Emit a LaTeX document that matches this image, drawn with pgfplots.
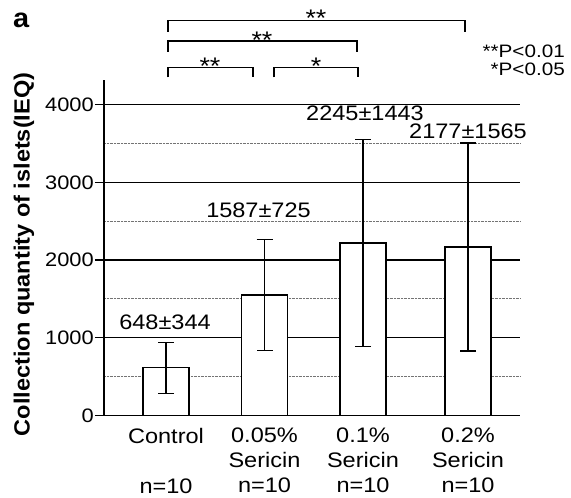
\documentclass[border=0pt]{standalone}
\usepackage{pgfplots}
\pgfplotsset{compat=1.18}
\usepackage{fontspec}
\setmainfont{Liberation Sans}
\newfontfamily\tf[FakeStretch=1.12]{Liberation Sans}
\newfontfamily\lf[FakeStretch=1.15]{Liberation Sans}
\newfontfamily\bff[FakeStretch=1.07]{Liberation Sans}
\begin{document}
\begin{tikzpicture}[x=1pt,y=1pt]
\useasboundingbox (0,0) rectangle (571,498);
\begin{axis}[
  at={(104pt,82.5pt)}, anchor=south west,
  scale only axis, width=416pt, height=335.5pt,
  xmin=0, xmax=416, ymin=0, ymax=4318,
  axis lines=left, axis line style={-, line width=1.4pt, black},
  clip=false,
  ytick={0,1000,2000,3000,4000},
  yticklabels={0,1000,2000,3000,4000},
  minor ytick={500,1500,2500,3500},
  ymajorgrids, yminorgrids,
  major grid style={black, line width=1.4pt},
  minor grid style={black!55, densely dotted, line width=1pt},
  major tick length=9pt, minor tick length=0pt, tick align=outside,
  ytick style={black, line width=1.4pt},
  xtick={62,160.5,259,364}, xtick style={draw=none},
  xticklabels={{Control\\\mbox{}\\n=10},{0.05\%\\Sericin\\n=10},{0.1\%\\Sericin\\n=10},{0.2\%\\Sericin\\n=10}},
  xticklabel style={align=center, font=\tf\fontsize{21}{25}\selectfont, anchor=north},
  yticklabel style={font=\tf\fontsize{19.5}{22}\selectfont, inner sep=1pt, anchor=east},
]
\addplot[ybar, bar width=46, fill=white, draw=black, line width=1.3pt,
  error bars/.cd, y dir=both, y explicit,
  error bar style={line width=1.3pt, black},
  error mark options={rotate=90, mark size=8pt, line width=1.3pt, black}]
  coordinates {(62,615) +- (0,328) (160.5,1551) +- (0,715) (259,2220) +- (0,1336) (364,2168) +- (0,1338)};
\end{axis}
% significance brackets
\draw[line width=1.3pt] (168,466.3) -- (168,477.3) -- (465,477.3) -- (465,466.3);
\draw[line width=1.3pt] (168,446) -- (168,457) -- (357,457) -- (357,446);
\draw[line width=1.3pt] (168,420.5) -- (168,430.7) -- (253,430.7) -- (253,420.5);
\draw[line width=1.3pt] (274,420.5) -- (274,430.7) -- (358,430.7) -- (358,420.5);
\begin{scope}[every node/.style={anchor=base, inner sep=0pt, font=\tf\fontsize{24}{24}\selectfont}]
\node at (316,471.3) {**};
\node at (262,449.3) {**};
\node at (210,423.3) {**};
\node at (316,423.3) {*};
\end{scope}
\node[anchor=base east, inner sep=0pt, font=\lf\fontsize{18}{18}\selectfont] at (565,440) {**P<0.01};
\node[anchor=base east, inner sep=0pt, font=\lf\fontsize{18}{18}\selectfont] at (565,422) {*P<0.05};
% value labels
\begin{scope}[every node/.style={anchor=base, inner sep=0pt, font=\tf\fontsize{21}{21}\selectfont}]
\node at (165,168) {648±344};
\node at (258.5,280) {1587±725};
\node at (365,377) {2245±1443};
\node at (468,359) {2177±1565};
\end{scope}
\node[anchor=base west, inner sep=0pt, font=\bff\bfseries\fontsize{27}{27}\selectfont] at (13,470) {a};
\node[rotate=90, inner sep=0pt, font=\bff\bfseries\fontsize{22}{22}\selectfont] at (24,243.5) {Collection quantity of islets(IEQ)};
\end{tikzpicture}
\end{document}
